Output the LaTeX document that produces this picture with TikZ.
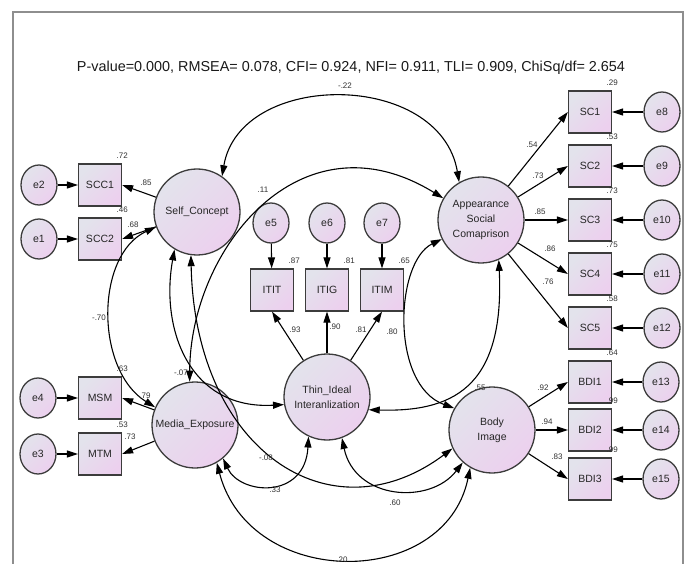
\documentclass[tikz,border=0pt]{standalone}
\usepackage{fontspec}
\setmainfont{Liberation Sans}
\usetikzlibrary{arrows.meta,shapes.geometric}
\definecolor{gA}{HTML}{E3E3EC}
\definecolor{gB}{HTML}{ECD0EE}
\definecolor{edgec}{HTML}{3C3C3C}
\definecolor{framec}{HTML}{8E8E8E}
\definecolor{numc}{HTML}{303030}
\begin{document}
\begin{tikzpicture}[x=1pt,y=-1pt,
  lat/.style={circle, draw=edgec, line width=1.3pt, minimum size=86pt, inner sep=0pt,
    top color=gA, bottom color=gB, shading angle=45,
    font=\fontsize{10.5}{15}\selectfont, text=black!85, align=center},
  obs/.style={rectangle, draw=edgec, line width=1.3pt, minimum width=43pt, minimum height=42pt, inner sep=0pt,
    top color=gA, bottom color=gB, shading angle=45,
    font=\fontsize{10.5}{12}\selectfont, text=black!85},
  err/.style={ellipse, draw=edgec, line width=1.3pt, minimum width=36pt, minimum height=40pt, inner sep=0pt,
    top color=gA, bottom color=gB, shading angle=45,
    font=\fontsize{10.5}{12}\selectfont, text=black!85},
  conn/.style={line width=1.1pt, -{Triangle[length=11pt,width=7pt]}},
  cov/.style={line width=1.1pt, {Triangle[length=11pt,width=7pt]}-{Triangle[length=11pt,width=7pt]}},
  num/.style={font=\fontsize{8}{9}\selectfont, text=numc, inner sep=0pt},
  rsq/.style={num, yshift=8pt},
]
\useasboundingbox (0,0) rectangle (691,564);
\draw[framec, line width=2pt] (13,564) -- (13,12) -- (683,12) -- (683,564);

\node[font=\fontsize{14.4}{16}\selectfont, text=black!90] (title) at (351,68)
  {P-value=0.000, RMSEA= 0.078, CFI= 0.924, NFI= 0.911, TLI= 0.909, ChiSq/df= 2.654};

% latent variables
\node[lat] (SC) at (197,212) {Self\_Concept};
\node[lat] (ME) at (195,425) {Media\_Exposure};
\node[lat] (TI) at (327,397) {Thin\_Ideal\\Interanlization};
\node[lat] (ASC) at (481,220) {Appearance\\Social\\Comaprison};
\node[lat] (BI) at (492,430) {Body\\Image};

% observed
\node[obs] (SCC1) at (100,185) {SCC1};
\node[obs] (SCC2) at (100,239) {SCC2};
\node[obs] (MSM) at (100,398) {MSM};
\node[obs] (MTM) at (100,454) {MTM};
\node[obs] (ITIT) at (272,290) {ITIT};
\node[obs] (ITIG) at (327,290) {ITIG};
\node[obs] (ITIM) at (382,290) {ITIM};
\node[obs] (SC1) at (590,112) {SC1};
\node[obs] (SC2) at (590,166) {SC2};
\node[obs] (SC3) at (590,220) {SC3};
\node[obs] (SC4) at (590,274) {SC4};
\node[obs] (SC5) at (590,328) {SC5};
\node[obs] (BDI1) at (590,382) {BDI1};
\node[obs] (BDI2) at (590,430) {BDI2};
\node[obs] (BDI3) at (590,479) {BDI3};

% errors
\node[err] (e2) at (39,185) {e2};
\node[err] (e1) at (39,239) {e1};
\node[err] (e4) at (38,398) {e4};
\node[err] (e3) at (38,454) {e3};
\node[err] (e5) at (271,223) {e5};
\node[err] (e6) at (327,223) {e6};
\node[err] (e7) at (382,223) {e7};
\node[err] (e8) at (662,112) {e8};
\node[err] (e9) at (662,166) {e9};
\node[err] (e10) at (662,220) {e10};
\node[err] (e11) at (662,274) {e11};
\node[err] (e12) at (662,328) {e12};
\node[err] (e13) at (661,382) {e13};
\node[err] (e14) at (661,430) {e14};
\node[err] (e15) at (661,479) {e15};

% error arrows
\foreach \e/\b in {e2/SCC1,e1/SCC2,e4/MSM,e3/MTM,e5/ITIT,e6/ITIG,e7/ITIM,e8/SC1,e9/SC2,e10/SC3,e11/SC4,e12/SC5,e13/BDI1,e14/BDI2,e15/BDI3}
  \draw[conn] (\e) -- (\b);

% loadings
\draw[conn] (SC) -- (SCC1.east);
\draw[conn] (SC) -- (SCC2.east);
\draw[conn] (ME) -- (MSM.east);
\draw[conn] (ME) -- (MTM.east);
\draw[conn] (TI) -- (ITIT.south);
\draw[conn] (TI) -- (ITIG.south);
\draw[conn] (TI) -- (ITIM.south);
\foreach \b in {SC1,SC2,SC3,SC4,SC5}
  \draw[conn] (ASC) -- (\b.west);
\foreach \b in {BDI1,BDI2,BDI3}
  \draw[conn] (BI) -- (\b.west);

% covariances
\draw[cov] (SC.55) .. controls (240,70) and (440,70) .. (ASC.120);
\draw[cov] (ME.97) .. controls (190,250) and (300,110) .. (ASC.150);
\draw[cov] (SC.200) .. controls (95,255) and (95,370) .. (ME.156);
\draw[cov] (SC.239) .. controls (160,330) and (190,410) .. (TI.190);
\draw[cov] (SC.262) .. controls (195,450) and (330,540) .. (BI.205);
\draw[cov] (ME.310) .. controls (240,495) and (305,500) .. (TI.245);
\draw[cov] (ME.300) .. controls (250,590) and (445,590) .. (BI.240);
\draw[cov] (TI.290) .. controls (355,500) and (430,505) .. (BI.228);
\draw[cov] (TI.343) .. controls (450,412) and (505,390) .. (ASC.294);
\draw[cov] (ASC.206) .. controls (395,262) and (390,385) .. (BI.150);

% R-squared labels
\foreach \b/\v in {SCC1/.72,SCC2/.46,MSM/.63,MTM/.53,ITIT/.87,ITIG/.81,ITIM/.65,SC1/.29,SC2/.53,SC3/.73,SC4/.75,SC5/.58,BDI1/.64,BDI2/.99,BDI3/.99}
  \node[rsq] (r\b) at (\b.north east) {\v};

% loading labels
\node[num] (lSCC1) at (146,183) {.85};
\node[num] (lSCC2) at (133,225) {.68};
\node[num] (lMSM) at (145,396) {.79};
\node[num] (lMTM) at (130,437) {.73};
\node[num] (lITIT) at (295,330) {.93};
\node[num] (lITIG) at (335,327) {.90};
\node[num] (lITIM) at (361,330) {.81};
\node[num] (lSC1) at (532,145) {.54};
\node[num] (lSC2) at (538,176) {.73};
\node[num] (lSC3) at (540,212) {.85};
\node[num] (lSC4) at (550,249) {.86};
\node[num] (lSC5) at (548,282) {.76};
\node[num] (lBDI1) at (543,388) {.92};
\node[num] (lBDI2) at (547,422) {.94};
\node[num] (lBDI3) at (557,457) {.83};

% covariance labels
\node[num] (cSCASC) at (345,86) {-.22};
\node[num] (cMEASC) at (263,190) {.11};
\node[num] (cSCME) at (99,318) {-.70};
\node[num] (cSCTI) at (181,373) {-.07};
\node[num] (cASCBI) at (392,332) {.80};
\node[num] (cTIASC) at (480,388) {.55};
\node[num] (cSCBI) at (266,458) {-.08};
\node[num] (cMETI) at (275,490) {.33};
\node[num] (cTIBI) at (395,503) {.60};
\node[num] (cMEBI) at (342,560) {.20};
\end{tikzpicture}
\end{document}
